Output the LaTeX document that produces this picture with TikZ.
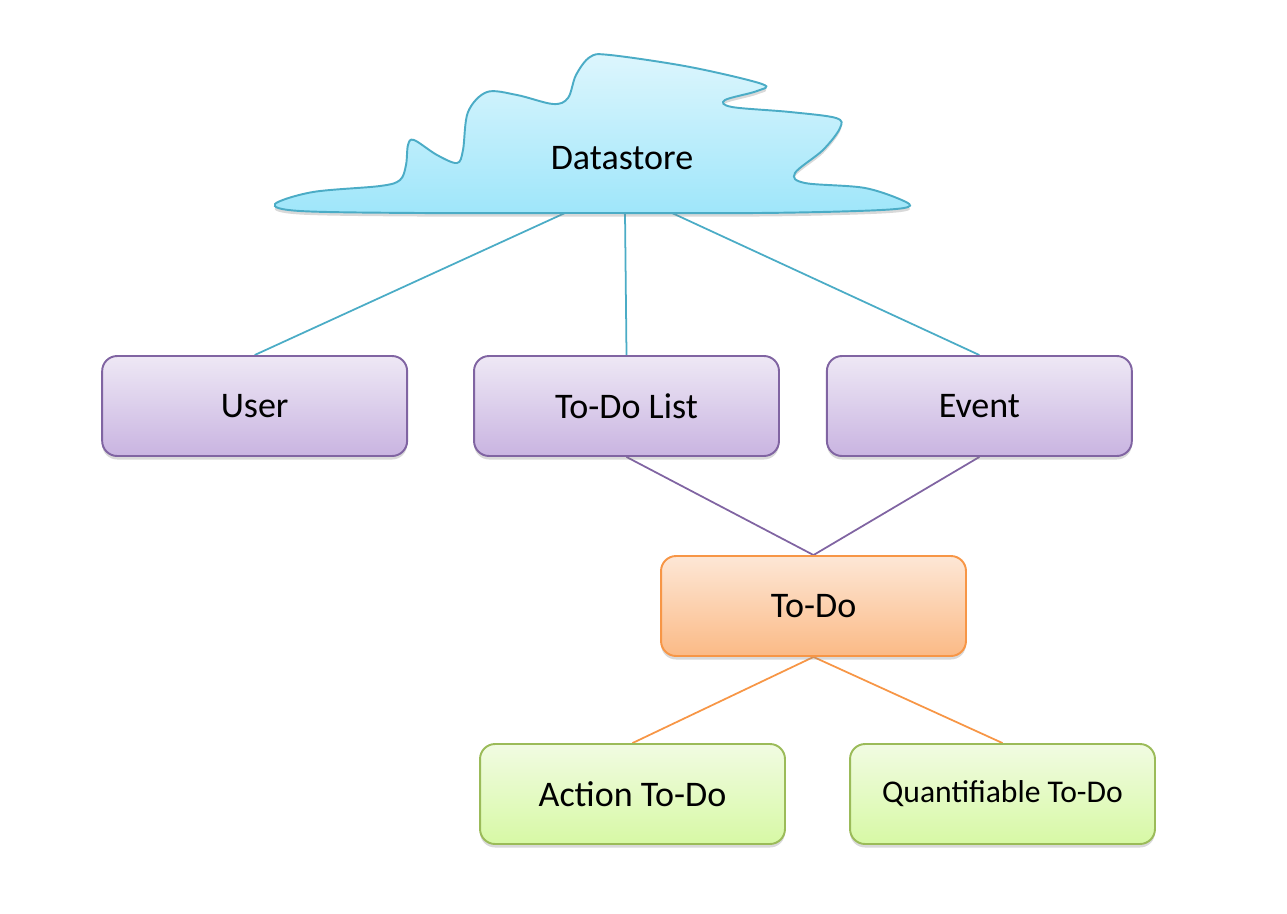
\documentclass[tikz,border=0pt]{standalone}
\usepackage{fontspec}
\setmainfont{Carlito}
\usepackage{xcolor}
\usepackage{tikz}
\usetikzlibrary{positioning,shadows,backgrounds}
\definecolor{nubeborde}{HTML}{4BACC6}
\definecolor{nubearriba}{HTML}{DDF6FD}
\definecolor{nubeabajo}{HTML}{9FE6FA}
\definecolor{moradoborde}{HTML}{8064A2}
\definecolor{moradoarriba}{HTML}{EEE8F5}
\definecolor{moradoabajo}{HTML}{C9B4E1}
\definecolor{naranjaborde}{HTML}{F79646}
\definecolor{naranjaarriba}{HTML}{FDE7D6}
\definecolor{naranjaabajo}{HTML}{FBBA86}
\definecolor{verdeborde}{HTML}{9BBB59}
\definecolor{verdearriba}{HTML}{F1FBE2}
\definecolor{verdeabajo}{HTML}{D7F9A5}
\tikzset{
  caja/.style={rectangle, rounded corners=0.3cm, line width=1.1pt,
               minimum width=6.1cm, minimum height=2cm, align=center,
               font=\fontsize{20.5}{24}\selectfont,
               drop shadow={opacity=0.3, shadow xshift=0pt, shadow yshift=-2pt}},
  entidad/.style={caja, draw=moradoborde, top color=moradoarriba, bottom color=moradoabajo},
  tarea/.style={caja, draw=naranjaborde, top color=naranjaarriba, bottom color=naranjaabajo},
  subtarea/.style={caja, draw=verdeborde, top color=verdearriba, bottom color=verdeabajo},
  nube/.style={draw=nubeborde, line width=1.1pt, top color=nubearriba, bottom color=nubeabajo,
               drop shadow={opacity=0.3, shadow xshift=0pt, shadow yshift=-2pt}},
  enlace/.style={line width=1pt}
}

\begin{document}
\begin{tikzpicture}[x=0.02cm, y=-0.02cm]
  \useasboundingbox (0,0) rectangle (1287,913);
  % nube del datastore
  \draw[nube] plot[smooth cycle, tension=0.55] coordinates {
    (275,204) (313,192) (380,186) (400,180) (406,165) (408,145) (414,140)
    (437,155) (457,163) (463,150) (468,112) (487,92) (517,95) (553,104)
    (568,98) (576,75) (590,57) (610,55) (690,67) (762,84) (757,91) (725,100)
    (732,107) (790,112) (836,118) (840,128) (823,150) (795,173) (805,183)
    (865,188) (906,202) (904,208) (857,211) (757,213) (590,213) (420,213) (300,211)};
  \node[font=\fontsize{20.5}{24}\selectfont] (ds) at (622,158) {Datastore};
  \coordinate (ds-u) at (565,213);
  \coordinate (ds-l) at (625,213);
  \coordinate (ds-e) at (672,213);

  \node[entidad] (lista) at (626.5,406) {To-Do List};
  \node[entidad, left=1.30cm of lista] (user) {User};
  \node[entidad, right=0.92cm of lista] (event) {Event};
  \node[tarea] (todo) at (813.5,606) {To-Do};
  \node[subtarea] (accion) at (632.5,794) {Action To-Do};
  \node[subtarea, font=\fontsize{18}{22}\selectfont] (cuant) at (1002.5,794) {Quantifiable To-Do};

  \begin{scope}[on background layer]
    \draw[enlace, nubeborde] (ds-u) -- (user.north);
    \draw[enlace, nubeborde] (ds-l) -- (lista.north);
    \draw[enlace, nubeborde] (ds-e) -- (event.north);
    \draw[enlace, moradoborde] (lista.south) -- (todo.north);
    \draw[enlace, moradoborde] (event.south) -- (todo.north);
    \draw[enlace, naranjaborde] (todo.south) -- (accion.north);
    \draw[enlace, naranjaborde] (todo.south) -- (cuant.north);
  \end{scope}
\end{tikzpicture}
\end{document}
